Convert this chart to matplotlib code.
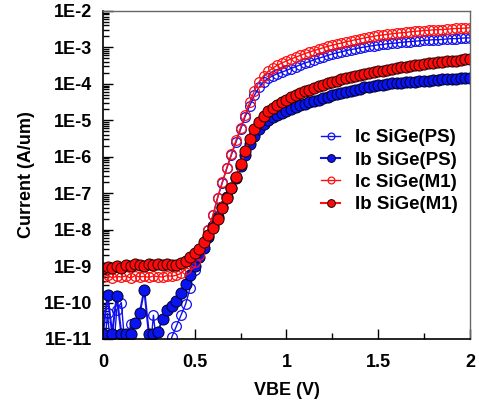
import numpy as np
import matplotlib
matplotlib.use('Agg')
import matplotlib.pyplot as plt
from matplotlib.ticker import FixedLocator, FuncFormatter, MultipleLocator

plt.rcParams['font.family'] = ['Liberation Sans', 'DejaVu Sans']
plt.rcParams['font.weight'] = 'bold'

# VBE sweep, 0 .. 2 V in 25 mV steps
vbe = np.linspace(0, 2, 81)

# log10 of current (A/um)
ic_ps_log = [-11.6, -10.3, -11.8, -10.2, -10.0, -11.5, -10.6, -12.0, -11.4, -11.9,
             -11.7, -10.35, -11.5, -12.0, -11.6, -10.95, -10.65, -10.35, -10.05, -9.6,
             -9.1, -8.75, -8.4, -8.0, -7.6, -7.12, -6.72, -6.32, -5.95, -5.6,
             -5.25, -4.9, -4.6, -4.32, -4.1, -3.95, -3.85, -3.78, -3.72, -3.68,
             -3.63, -3.58, -3.53, -3.48, -3.43, -3.39, -3.34, -3.3, -3.26, -3.22,
             -3.18, -3.15, -3.12, -3.09, -3.06, -3.04, -3.01, -2.99, -2.97, -2.95,
             -2.93, -2.92, -2.9, -2.89, -2.88, -2.86, -2.85, -2.84, -2.83, -2.82,
             -2.81, -2.8, -2.79, -2.79, -2.78, -2.77, -2.76, -2.76, -2.75, -2.74,
             -2.74]
ib_ps_log = [-10.85, -9.8, -10.85, -9.82, -10.85, -10.85, -10.85, -10.55, -10.3, -9.65,
             -10.85, -10.85, -10.8, -10.45, -10.2, -10.1, -9.95, -9.75, -9.5, -9.25,
             -9.0, -8.75, -8.5, -8.2, -7.9, -7.65, -7.38, -7.1, -6.85, -6.57,
             -6.25, -5.95, -5.65, -5.42, -5.25, -5.1, -5.0, -4.92, -4.85, -4.79,
             -4.74, -4.69, -4.64, -4.59, -4.55, -4.51, -4.47, -4.43, -4.39, -4.35,
             -4.31, -4.28, -4.25, -4.22, -4.19, -4.16, -4.13, -4.1, -4.08, -4.06,
             -4.03, -4.02, -4.0, -3.99, -3.98, -3.97, -3.96, -3.95, -3.94, -3.93,
             -3.92, -3.91, -3.9, -3.89, -3.88, -3.87, -3.87, -3.86, -3.85, -3.84,
             -3.83]
ic_m1_log = [-9.3, -9.25, -9.32, -9.28, -9.3, -9.27, -9.33, -9.26, -9.3, -9.28,
             -9.31, -9.27, -9.29, -9.3, -9.26, -9.28, -9.25, -9.2, -9.08, -8.95,
             -8.88, -8.69, -8.38, -8.0, -7.6, -7.12, -6.7, -6.3, -5.92, -5.55,
             -5.2, -4.85, -4.5, -4.2, -3.95, -3.78, -3.66, -3.57, -3.49, -3.43,
             -3.37, -3.32, -3.27, -3.22, -3.17, -3.13, -3.09, -3.05, -3.01, -2.97,
             -2.94, -2.91, -2.88, -2.85, -2.82, -2.79, -2.77, -2.74, -2.72, -2.7,
             -2.67, -2.66, -2.64, -2.63, -2.61, -2.6, -2.59, -2.57, -2.56, -2.55,
             -2.54, -2.53, -2.52, -2.51, -2.51, -2.5, -2.49, -2.48, -2.48, -2.47,
             -2.46]
ib_m1_log = [-9.05, -9.02, -9.06, -9.0, -9.04, -8.97, -9.0, -8.93, -8.96, -9.0,
             -8.94, -8.97, -8.95, -8.98, -8.95, -8.97, -8.96, -8.92, -8.85, -8.75,
             -8.64, -8.52, -8.35, -8.15, -7.95, -7.7, -7.4, -7.12, -6.85, -6.55,
             -6.2, -5.85, -5.5, -5.25, -5.05, -4.88, -4.75, -4.65, -4.57, -4.5,
             -4.43, -4.37, -4.31, -4.26, -4.21, -4.16, -4.11, -4.07, -4.03, -3.99,
             -3.95, -3.91, -3.88, -3.85, -3.82, -3.79, -3.76, -3.73, -3.71, -3.68,
             -3.66, -3.64, -3.61, -3.59, -3.57, -3.55, -3.53, -3.51, -3.49, -3.48,
             -3.46, -3.44, -3.43, -3.41, -3.4, -3.38, -3.37, -3.36, -3.34, -3.33,
             -3.32]

labels = ['Ic SiGe(PS)', 'Ib SiGe(PS)', 'Ic SiGe(M1)', 'Ib SiGe(M1)']
ytick_exp = list(range(-11, -1))

fig = plt.figure(figsize=(4.79, 4.05), dpi=100)
ax = fig.add_axes([0.215, 0.163, 0.766, 0.810])

ax.semilogy(vbe, 10.0 ** np.array(ic_ps_log), '-o', color='#1010ee', lw=1.0,
            ms=7.0, mfc='none', mec='#1010ee', mew=0.9, label=labels[0])
ax.semilogy(vbe, 10.0 ** np.array(ib_ps_log), '-o', color='#1010ee', lw=1.5,
            ms=8.0, mfc='#0a14f0', mec='#000020', mew=0.7, label=labels[1])
ax.semilogy(vbe, 10.0 ** np.array(ic_m1_log), '-o', color='#ff1010', lw=1.0,
            ms=7.0, mfc='none', mec='#ff1010', mew=0.9, label=labels[2])
ax.semilogy(vbe, 10.0 ** np.array(ib_m1_log), '-o', color='#ff1010', lw=1.5,
            ms=8.0, mfc='#ff0a0a', mec='#200000', mew=0.7, label=labels[3])

ax.set_xlim(0, 2)
ax.set_ylim(1e-11, 1e-2)

ax.yaxis.set_major_locator(FixedLocator([10.0 ** e for e in ytick_exp]))
ax.yaxis.set_major_formatter(FuncFormatter(lambda v, p: '1E%d' % round(np.log10(v))))
ax.yaxis.set_minor_locator(FixedLocator([m * 10.0 ** e for e in ytick_exp[:-1] for m in range(2, 10)]))
ax.yaxis.set_minor_formatter(FuncFormatter(lambda v, p: ''))
ax.xaxis.set_major_locator(MultipleLocator(0.5))
ax.xaxis.set_minor_locator(MultipleLocator(0.25))
ax.xaxis.set_major_formatter(FuncFormatter(lambda v, p: '%g' % v))

ax.tick_params(which='both', direction='in', top=False, right=False, width=1.0)
ax.tick_params(which='major', length=7, labelsize=13)
ax.tick_params(which='minor', length=4)
ax.tick_params(axis='y', which='major', pad=8)
ax.tick_params(axis='x', which='major', pad=11)

for s in ['left', 'bottom']:
    ax.spines[s].set_linewidth(1.2)
for s in ['top', 'right']:
    ax.spines[s].set_color('#666666')
    ax.spines[s].set_linewidth(1.0)

ax.set_xlabel('VBE (V)', fontsize=13, fontweight='bold', labelpad=8)
ax.set_ylabel('Current (A/um)', fontsize=13, fontweight='bold', labelpad=6)

leg = ax.legend(loc='upper left', bbox_to_anchor=(0.595, 0.64), frameon=False,
                fontsize=13.5, handlelength=1.0, handletextpad=0.8,
                labelspacing=0.28, borderaxespad=0, borderpad=0, markerscale=0.7)
for t in leg.get_texts():
    t.set_fontweight('bold')

fig.savefig('out.png', dpi=100)
